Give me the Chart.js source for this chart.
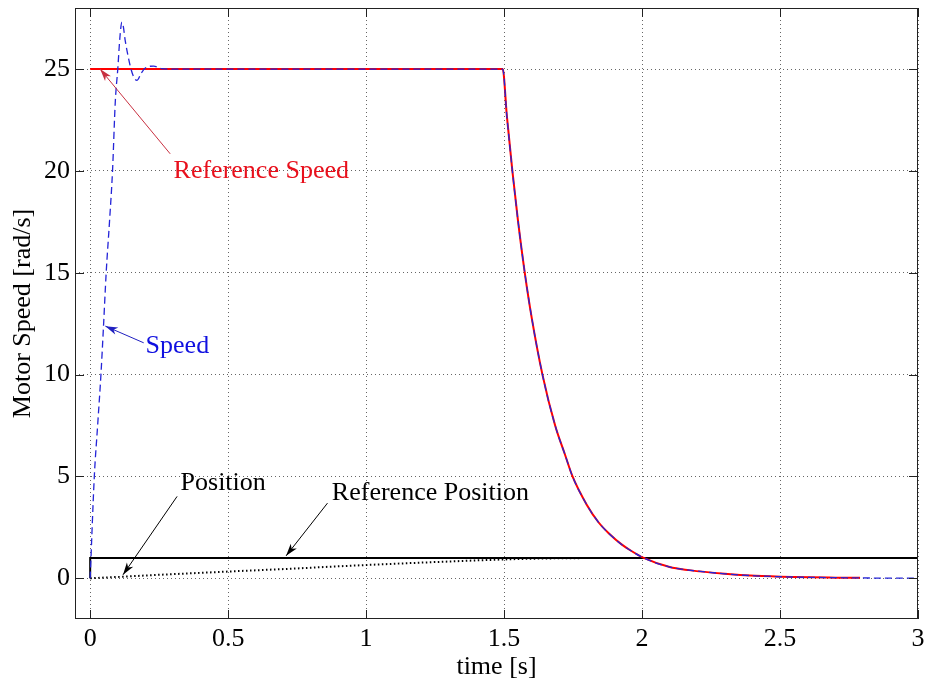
<!DOCTYPE html>
<html lang="en">
<head>
    <meta charset="UTF-8">
    <title>Motor Speed</title>
    <script src="https://cdn.jsdelivr.net/npm/chart.js"></script>
    <style>
        html, body { margin: 0; padding: 0; background: #fff; }
        #wrap { width: 927px; height: 685px; }
    </style>
</head>
<body>
<div id="wrap"><canvas id="motorChart" width="927" height="685"></canvas></div>
<script>
// values (time in s)
const speedT = [0, 0.015, 0.027, 0.039, 0.048, 0.058, 0.07, 0.081, 0.091, 0.1, 0.108, 0.115, 0.12, 0.127, 0.138, 0.148, 0.16, 0.17, 0.185, 0.2, 0.23, 0.26, 0.3,
                1.495, 1.51, 1.53, 1.55, 1.575, 1.6, 1.639, 1.685, 1.72, 1.748, 1.8, 1.842, 1.88, 1.927, 1.96, 2.006, 2.1, 2.17, 2.3, 2.41, 2.55, 2.7, 2.85, 3];
const speedV = [0, 5, 7.5, 10, 12.3, 15, 17.5, 20, 23.4, 25, 26.6, 27.3, 27.1, 26.4, 25.6, 25, 24.55, 24.45, 24.8, 25.05, 25.15, 25.02, 25,
                25, 22.7, 20, 17.6, 15, 12.8, 10, 7.5, 6.1, 5, 3.6, 2.75, 2.2, 1.65, 1.35, 1.0, 0.55, 0.4, 0.22, 0.12, 0.06, 0.03, 0.01, 0];

const refSpeedT = [0, 1.495, 1.51, 1.53, 1.55, 1.575, 1.6, 1.639, 1.685, 1.72, 1.748, 1.8, 1.842, 1.88, 1.927, 1.96, 2.006, 2.1, 2.17, 2.3, 2.41, 2.55, 2.7, 2.79];
const refSpeedV = [25, 25, 22.7, 20, 17.6, 15, 12.8, 10, 7.5, 6.1, 5, 3.6, 2.75, 2.2, 1.65, 1.35, 1.0, 0.55, 0.4, 0.22, 0.12, 0.06, 0.03, 0.02];

const posT = [0, 0.12, 0.25, 0.5, 0.76, 0.86, 1.0, 1.24, 1.49, 1.6, 1.7, 1.79];
const posV = [0, 0.08, 0.17, 0.33, 0.49, 0.56, 0.65, 0.79, 0.92, 0.96, 0.98, 0.99];

const refPosT = [0, 0, 3];
const refPosV = [0, 1, 1];

const xTicks = [0, 0.5, 1, 1.5, 2, 2.5, 3];
const yTicks = [0, 5, 10, 15, 20, 25];

// text labels with arrows (data coordinates)
const notes = [
    { text: 'Reference Speed', color: '#e8101c', arrow: '#c83040', at: [0.62, 19.67], from: [0.29, 20.84], to: [0.036, 25] },
    { text: 'Speed', color: '#1010e0', arrow: '#2020c0', at: [0.316, 11.07], from: [0.194, 11.56], to: [0.055, 12.38] },
    { text: 'Position', color: '#000', arrow: '#000', at: [0.482, 4.35], from: [0.315, 4.02], to: [0.119, 0.17] },
    { text: 'Reference Position', color: '#000', arrow: '#000', at: [1.233, 3.86], from: [0.86, 3.69], to: [0.71, 1.1] }
];

const pairs = (t, v) => t.map((x, i) => ({ x: x, y: v[i] }));
const serif = "'Liberation Serif', 'Times New Roman', serif";

const annotate = {
    id: 'annotate',
    afterDatasetsDraw(chart) {
        const ctx = chart.ctx;
        const xs = chart.scales.x, ys = chart.scales.y;
        const a = chart.chartArea;
        ctx.save();
        // axes box and inward ticks
        ctx.strokeStyle = '#222';
        ctx.lineWidth = 1;
        ctx.strokeRect(a.left + 0.5, a.top + 0.5, a.right - a.left - 1, a.bottom - a.top - 1);
        ctx.beginPath();
        xTicks.forEach(v => {
            const px = Math.round(xs.getPixelForValue(v)) + 0.5;
            ctx.moveTo(px, a.bottom); ctx.lineTo(px, a.bottom - 9);
            ctx.moveTo(px, a.top); ctx.lineTo(px, a.top + 9);
        });
        yTicks.forEach(v => {
            const py = Math.round(ys.getPixelForValue(v)) + 0.5;
            ctx.moveTo(a.left, py); ctx.lineTo(a.left + 9, py);
            ctx.moveTo(a.right, py); ctx.lineTo(a.right - 9, py);
        });
        ctx.stroke();

        // notes
        ctx.font = '26px ' + serif;
        ctx.textAlign = 'center';
        ctx.textBaseline = 'alphabetic';
        notes.forEach(n => {
            const x1 = xs.getPixelForValue(n.from[0]), y1 = ys.getPixelForValue(n.from[1]);
            const x2 = xs.getPixelForValue(n.to[0]), y2 = ys.getPixelForValue(n.to[1]);
            const ang = Math.atan2(y2 - y1, x2 - x1);
            ctx.strokeStyle = n.arrow;
            ctx.fillStyle = n.arrow;
            ctx.lineWidth = 1;
            ctx.beginPath();
            ctx.moveTo(x1, y1);
            ctx.lineTo(x2, y2);
            ctx.stroke();
            ctx.beginPath();
            ctx.moveTo(x2, y2);
            ctx.lineTo(x2 - 13 * Math.cos(ang - 0.3), y2 - 13 * Math.sin(ang - 0.3));
            ctx.lineTo(x2 - 9 * Math.cos(ang), y2 - 9 * Math.sin(ang));
            ctx.lineTo(x2 - 13 * Math.cos(ang + 0.3), y2 - 13 * Math.sin(ang + 0.3));
            ctx.closePath();
            ctx.fill();
            ctx.fillStyle = n.color;
            ctx.fillText(n.text, xs.getPixelForValue(n.at[0]), ys.getPixelForValue(n.at[1]));
        });
        ctx.restore();
    }
};

const gridStyle = {
    color: 'rgba(0,0,0,0.6)',
    lineWidth: 1,
    drawTicks: false
};

new Chart(document.getElementById('motorChart'), {
    type: 'line',
    data: {
        datasets: [
            {
                label: 'Speed',
                data: pairs(speedT, speedV),
                borderColor: '#2424d8',
                borderWidth: 1.3,
                borderDash: [7, 4],
                pointRadius: 0,
                cubicInterpolationMode: 'monotone'
            },
            {
                label: 'Reference Speed',
                data: pairs(refSpeedT, refSpeedV),
                borderColor: '#ff0000',
                borderWidth: 2,
                pointRadius: 0,
                cubicInterpolationMode: 'monotone'
            },
            {
                label: 'Position',
                data: pairs(posT, posV),
                borderColor: '#000',
                borderWidth: 2,
                borderDash: [1.5, 2.5],
                pointRadius: 0,
                cubicInterpolationMode: 'monotone'
            },
            {
                label: 'Reference Position',
                data: pairs(refPosT, refPosV),
                borderColor: '#000',
                borderWidth: 2,
                pointRadius: 0
            }
        ]
    },
    options: {
        responsive: false,
        animation: false,
        layout: { padding: { top: 8, right: 9, left: 0, bottom: 0 } },
        plugins: { legend: { display: false }, tooltip: { enabled: false } },
        scales: {
            x: {
                type: 'linear',
                min: -0.055,
                max: 3,
                afterBuildTicks: s => { s.ticks = xTicks.map(v => ({ value: v })); },
                afterFit: s => { s.height = 66; s.paddingLeft = 0; s.paddingRight = 0; },
                grid: gridStyle,
                border: { display: false, dash: [1, 3] },
                ticks: {
                    color: '#000',
                    padding: 5,
                    maxRotation: 0,
                    font: { family: serif, size: 26 },
                    callback: v => String(v)
                },
                title: {
                    display: true,
                    text: 'time [s]',
                    color: '#000',
                    font: { family: serif, size: 26 },
                    padding: { top: 0, bottom: 2 }
                }
            },
            y: {
                min: -2,
                max: 28,
                afterBuildTicks: s => { s.ticks = yTicks.map(v => ({ value: v })); },
                afterFit: s => { s.width = 75; s.paddingTop = 0; s.paddingBottom = 0; },
                grid: gridStyle,
                border: { display: false, dash: [1, 3] },
                ticks: {
                    color: '#000',
                    padding: 5,
                    font: { family: serif, size: 26 },
                    callback: v => String(v)
                },
                title: {
                    display: true,
                    text: 'Motor Speed [rad/s]',
                    color: '#000',
                    font: { family: serif, size: 26 },
                    padding: { top: 8, bottom: 0 }
                }
            }
        }
    },
    plugins: [annotate]
});
</script>
</body>
</html>
